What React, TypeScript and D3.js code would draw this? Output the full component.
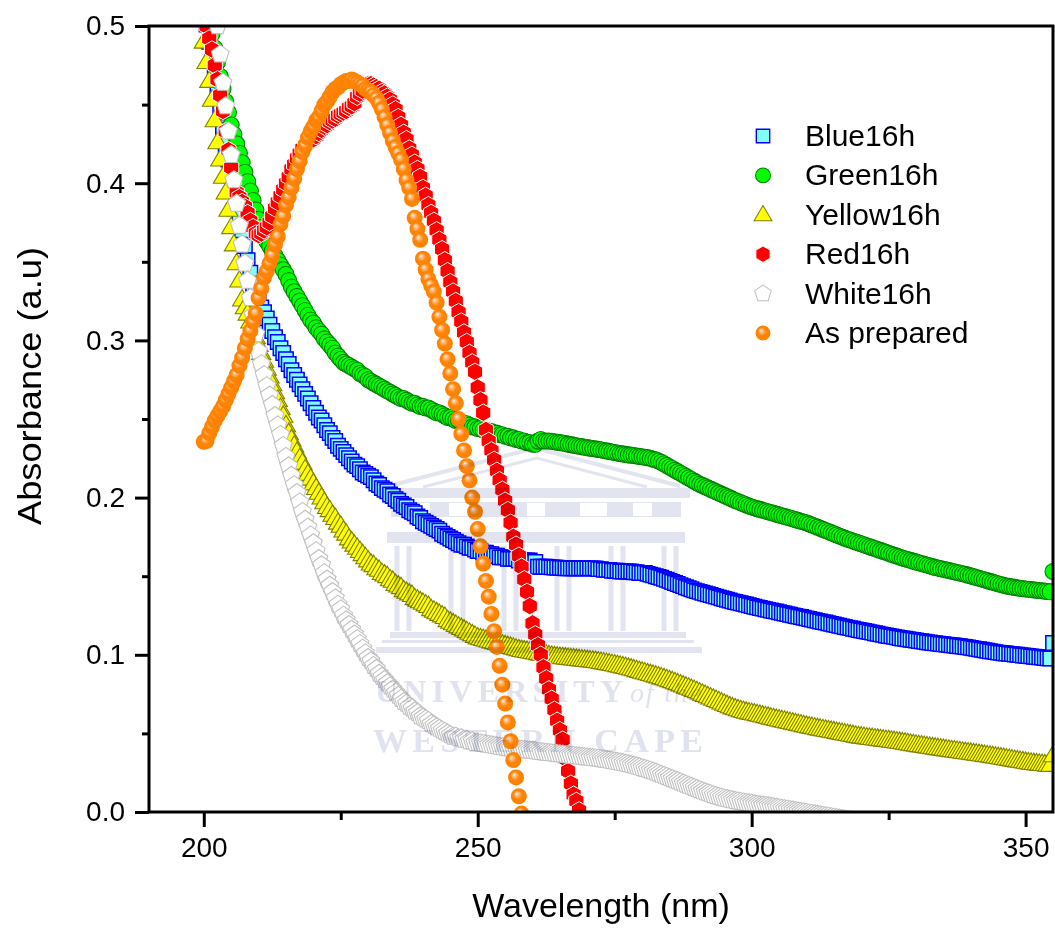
import { useEffect, useRef } from "react";
import * as d3 from "d3";

// Absorbance, one row = 10 nm, one value every 0.5 nm from 200 nm
const blue16h = [
  .512,.501,.490,.479,.468,.457,.445,.434,.424,.415,.408,.399,.390,.380,.370,.360,.351,.343,.336,.330,
  .325,.321,.318,.314,.310,.306,.302,.299,.295,.292,.288,.285,.281,.278,.275,.272,.269,.266,.263,.260,
  .257,.254,.251,.249,.246,.243,.241,.238,.236,.233,.231,.229,.227,.225,.223,.221,.220,.218,.216,.215,
  .214,.213,.211,.209,.208,.206,.205,.204,.202,.201,.199,.198,.196,.195,.194,.192,.191,.190,.188,.187,
  .185,.184,.183,.182,.181,.180,.179,.177,.176,.175,.174,.173,.172,.171,.170,.170,.169,.168,.168,.167,
  .166,.166,.165,.165,.164,.164,.163,.163,.162,.162,.162,.161,.161,.161,.161,.160,.160,.160,.160,.160,
  .159,.159,.156,.156,.156,.156,.1558,.1556,.1555,.1554,.1553,.1552,.1551,.155,.155,.155,.155,.155,.155,.155,
  .155,.155,.155,.155,.1545,.1545,.154,.154,.154,.1535,.1535,.1535,.153,.153,.153,.153,.153,.1525,.1525,.152,
  .152,.152,.1515,.151,.1505,.150,.1495,.149,.1483,.1477,.147,.1463,.1457,.145,.1443,.1437,.143,.1423,.1417,.141,
  .1405,.140,.1395,.139,.1385,.138,.1375,.137,.1365,.136,.1355,.135,.1345,.134,.1336,.1332,.1328,.1324,.132,.1315,
  .1310,.1306,.1302,.1298,.1294,.1290,.1286,.1282,.1278,.1275,.1271,.1267,.1263,.1259,.1255,.1251,.1247,.1243,.1240,.1236,
  .1232,.1228,.1224,.1220,.1216,.1212,.1208,.1205,.1201,.1197,.1193,.1189,.1185,.1181,.1177,.1173,.1170,.1166,.1162,.1158,
  .1155,.1151,.1148,.1144,.1141,.1137,.1134,.1130,.1127,.1123,.1120,.1117,.1114,.1111,.1107,.1104,.1102,.1099,.1096,.1094,
  .1091,.1088,.1086,.1083,.1080,.1078,.1075,.1073,.1071,.1069,.1067,.1065,.1063,.1061,.1059,.1056,.1054,.1052,.1050,.1047,
  .1044,.1041,.1038,.1035,.1032,.1029,.1026,.1023,.1020,.1017,.1014,.1012,.1010,.1008,.1006,.1004,.1002,.1000,.0998,.0996,
  .0994,.0992,.0990,.0988,.0986,.0984,.0982,.0980,.0978,.0976,.1075,
];

const green16h = [
  .525,.515,.505,.495,.486,.477,.468,.460,.452,.445,.437,.431,.425,.419,.413,.407,.401,.395,.389,.383,
  .377,.372,.367,.363,.360,.357,.354,.351,.348,.345,.342,.338,.334,.331,.328,.325,.322,.319,.316,.313,
  .311,.308,.306,.304,.301,.299,.297,.295,.292,.290,.288,.286,.285,.284,.283,.282,.281,.279,.278,.277,
  .275,.274,.273,.272,.271,.270,.269,.268,.267,.266,.265,.264,.263,.263,.262,.261,.260,.260,.259,.258,
  .258,.257,.257,.256,.255,.254,.254,.253,.252,.251,.251,.250,.249,.249,.248,.247,.247,.246,.245,.245,
  .244,.244,.243,.243,.242,.242,.241,.241,.240,.240,.239,.239,.238,.238,.237,.237,.236,.236,.235,.235,
  .234,.234,.236,.237,.236,.236,.236,.2358,.2355,.2352,.235,.2347,.2344,.234,.2337,.2334,.233,.2327,.2324,.232,
  .2318,.2315,.2312,.231,.2307,.2304,.230,.2297,.2294,.229,.2287,.2284,.228,.2278,.2275,.2272,.227,.2268,.2265,.2262,
  .226,.2257,.2254,.225,.2245,.224,.2233,.2225,.2215,.2205,.2195,.2185,.2175,.2165,.2155,.2145,.2135,.2125,.2115,.2105,
  .2095,.2085,.2078,.207,.2062,.2054,.2046,.2038,.203,.2022,.2014,.2006,.1998,.199,.1982,.1975,.1968,.1961,.1954,.1947,
  .1940,.1935,.1930,.1925,.1920,.1915,.1910,.1905,.1900,.1895,.1890,.1885,.1880,.1875,.1870,.1865,.1860,.1855,.1850,.1845,
  .1840,.1833,.1826,.1819,.1812,.1805,.1798,.1791,.1784,.1777,.1770,.1763,.1756,.1749,.1742,.1735,.1730,.1724,.1718,.1712,
  .1706,.1700,.1694,.1688,.1682,.1676,.1670,.1664,.1658,.1652,.1646,.1640,.1634,.1628,.1622,.1616,.1611,.1606,.1601,.1596,
  .1591,.1586,.1581,.1576,.1571,.1566,.1561,.1556,.1552,.1548,.1544,.1540,.1536,.1532,.1528,.1524,.1520,.1516,.1512,.1507,
  .1502,.1497,.1492,.1487,.1482,.1477,.1472,.1467,.1462,.1457,.1452,.1447,.1442,.1438,.1435,.1432,.1429,.1426,.1423,.1421,
  .1419,.1417,.1415,.1413,.1411,.1409,.1407,.1405,.1403,.1401,.153,
];

const yellow16h = [
  .490,.477,.465,.453,.440,.426,.415,.404,.394,.383,.372,.361,.349,.338,.326,.321,.317,.312,.307,.302,
  .297,.292,.287,.282,.277,.272,.267,.262,.257,.252,.246,.241,.237,.233,.229,.225,.222,.218,.215,.212,
  .209,.206,.203,.200,.197,.194,.192,.189,.187,.184,.182,.179,.177,.174,.172,.170,.168,.166,.164,.162,
  .160,.158,.157,.155,.154,.152,.151,.150,.148,.147,.145,.144,.143,.141,.140,.139,.138,.136,.135,.134,
  .133,.132,.131,.129,.128,.127,.126,.125,.124,.122,.121,.120,.119,.118,.117,.116,.115,.114,.113,.112,
  .111,.1105,.110,.1095,.109,.1085,.108,.1075,.107,.1065,.106,.1055,.105,.1045,.104,.1035,.103,.1027,.1024,.102,
  .1017,.1014,.101,.1007,.1004,.100,.0997,.0994,.0991,.0988,.0986,.0984,.0982,.098,.0978,.0976,.0974,.0972,.097,.0968,
  .0966,.0964,.0962,.096,.0957,.0954,.0951,.0948,.0945,.0941,.0938,.0934,.093,.0926,.0922,.0917,.0912,.0907,.0902,.0897,
  .0892,.0887,.0882,.0877,.0872,.0867,.0862,.0856,.085,.0844,.0838,.0832,.0825,.0818,.0811,.0804,.0797,.079,.0783,.0776,
  .0768,.076,.0752,.0744,.0736,.0728,.072,.0712,.0704,.0696,.0688,.068,.0672,.0665,.0659,.0653,.0647,.0642,.0637,.0633,
  .0630,.0626,.0622,.0618,.0613,.0609,.0605,.0600,.0596,.0592,.0588,.0584,.0580,.0576,.0572,.0568,.0564,.0560,.0556,.0552,
  .0548,.0544,.0541,.0537,.0533,.0530,.0526,.0523,.0520,.0516,.0513,.0509,.0506,.0502,.0499,.0496,.0492,.0489,.0485,.0482,
  .0479,.0477,.0474,.0472,.0470,.0467,.0465,.0463,.0460,.0458,.0456,.0453,.0451,.0448,.0446,.0443,.0440,.0437,.0434,.0431,
  .0428,.0425,.0423,.0420,.0417,.0414,.0411,.0409,.0406,.0404,.0401,.0398,.0396,.0393,.0391,.0388,.0386,.0383,.0381,.0378,
  .0376,.0373,.0371,.0368,.0365,.0363,.0360,.0358,.0355,.0352,.0349,.0346,.0343,.0340,.0337,.0334,.0331,.0328,.0325,.0322,
  .0319,.0316,.0313,.0311,.0309,.0307,.0305,.0303,.0301,.0299,.036,
];

const red16h = [
  .508,.500,.492,.485,.475,.466,.456,.446,.433,.421,.410,.402,.394,.391,.388,.385,.381,.376,.372,.368,
  .367,.368,.370,.372,.375,.379,.384,.388,.392,.396,.400,.404,.409,.412,.416,.419,.422,.424,.426,.428,
  .428,.430,.432,.434,.436,.437,.439,.440,.441,.443,.444,.445,.446,.448,.449,.451,.455,.457,.459,.461,
  .463,.463,.462,.461,.460,.458,.457,.455,.453,.450,.447,.442,.437,.432,.428,.422,.418,.413,.409,.404,
  .397,.392,.386,.381,.376,.370,.364,.358,.351,.344,.337,.331,.325,.318,.312,.305,.299,.292,.286,.280,
  .270,.262,.254,.243,.236,.230,.224,.217,.211,.205,.198,.192,.184,.175,.170,.163,.156,.148,.140,.131,
  .120,.113,.106,.100,.092,.085,.078,.072,.065,.058,.052,.046,.034,.026,.018,.011,.007,.001,-.005,-.012,
];

const white16h = [
  .590,.572,.553,.535,.517,.500,.482,.464,.449,.433,.418,.402,.387,.373,.361,.349,.338,.327,.316,.304,
  .293,.285,.278,.271,.265,.259,.252,.246,.240,.233,.226,.220,.214,.208,.203,.197,.191,.186,.181,.176,
  .171,.166,.161,.157,.152,.148,.144,.140,.136,.132,.129,.125,.122,.119,.116,.113,.110,.107,.104,.101,
  .098,.096,.093,.091,.088,.086,.084,.082,.080,.078,.076,.074,.072,.070,.069,.067,.066,.064,.063,.061,
  .060,.059,.058,.056,.055,.054,.053,.052,.051,.050,.049,.048,.048,.047,.047,.046,.046,.045,.045,.044,
  .0440,.0437,.0434,.0431,.0428,.0425,.0422,.0419,.0416,.0413,.0410,.0407,.0405,.0403,.0401,.0399,.0397,.0395,.0393,.0391,
  .0390,.0387,.0384,.0382,.0380,.0378,.0376,.0374,.0372,.0370,.0368,.0366,.0364,.0362,.0360,.0358,.0356,.0354,.0352,.0350,
  .0348,.0346,.0344,.0342,.0340,.0337,.0334,.0331,.0328,.0325,.0322,.0319,.0316,.0312,.0308,.0304,.0300,.0295,.0290,.0285,
  .0280,.0275,.0270,.0264,.0258,.0252,.0245,.0238,.0231,.0224,.0217,.0210,.0203,.0196,.0189,.0182,.0175,.0168,.0161,.0154,
  .0147,.0140,.0133,.0126,.0120,.0114,.0108,.0102,.0097,.0092,.0087,.0083,.0079,.0075,.0071,.0068,.0065,.0062,.0059,.0056,
  .0053,.0050,.0047,.0044,.0042,.0040,.0037,.0034,.0031,.0028,.0025,.0022,.0019,.0016,.0013,.0010,.0007,.0004,.0001,-.0002,
  -.0005,-.0008,-.0011,-.0014,-.0017,-.0020,-.0023,-.0026,-.0029,-.0032,-.0035,-.0038,-.0041,-.0044,-.0047,-.0050,-.0053,-.0056,-.0059,-.0062,
];

const asPrepared = [
  .2355,.236,.241,.245,.249,.252,.255,.258,.262,.266,.270,.274,.278,.284,.289,.295,.301,.306,.312,.317,
  .327,.333,.340,.344,.349,.354,.361,.366,.374,.379,.386,.391,.397,.403,.409,.414,.420,.424,.429,.433,
  .436,.440,.442,.446,.450,.452,.455,.458,.460,.461,.463,.464,.465,.465,.466,.465,.464,.463,.462,.460,
  .459,.458,.456,.454,.451,.447,.442,.437,.432,.427,.423,.419,.415,.409,.402,.397,.390,.378,.371,.364,
  .352,.345,.339,.335,.331,.324,.315,.3066,.298,.288,.279,.269,.260,.250,.2405,.230,.220,.211,.200,.191,
  .180,.169,.158,.147,.137,.126,.115,.105,.093,.081,.069,.057,.045,.033,.022,.010,-.001,
];

const startWavelength = 200;
const stepWavelength = 0.5;
const xMajorTicks = [200, 250, 300, 350];
const xMinorTicks = [225, 275, 325];
const yMajorTicks = [0, 0.1, 0.2, 0.3, 0.4, 0.5];
const yMinorTicks = [0.05, 0.15, 0.25, 0.35, 0.45];

const width = 1055;
const height = 928;
const left = 149;
const right = 1053;
const top = 26;
const bottom = 812;

const font = '"Liberation Sans", Arial, sans-serif';

// n-sided marker with a point on top
const polygon = (n: number, r: number) => {
  const pts = d3.range(n).map((i) => [(i * 2 * Math.PI) / n, r] as [number, number]);
  return d3.lineRadial().curve(d3.curveLinearClosed)(pts) as string;
};
const circle = d3.symbol().type(d3.symbolCircle).size(Math.PI * 8 * 8)() as string;
const square = "M-7.2,-7.2H7.2V7.2H-7.2Z";
const triangle = "M0,-10L9.6,6.4H-9.6Z";

const seriesList = [
  { name: "Blue16h", values: blue16h, d: square, fill: "#80ffff", stroke: "#0000ff", sw: 1.5 },
  { name: "Green16h", values: green16h, d: circle, fill: "#00ff00", stroke: "#008000", sw: 1.1 },
  { name: "Yellow16h", values: yellow16h, d: triangle, fill: "#ffff00", stroke: "#808000", sw: 1.1 },
  { name: "Red16h", values: red16h, d: polygon(6, 8.8), fill: "#ff0000", stroke: "#ffffff", sw: 1 },
  { name: "White16h", values: white16h, d: polygon(5, 9.4), fill: "#ffffff", stroke: "#c0c0c0", sw: 1.1 },
  { name: "As prepared", values: asPrepared, d: circle, fill: "url(#sphere)", stroke: "none", sw: 0 },
];

const drawChart = (node: SVGSVGElement) => {
  const svg = d3.select(node);
  svg.selectAll("*").remove();

  const x = d3.scaleLinear().domain([190, 355]).range([left, right]);
  const y = d3.scaleLinear().domain([0, 0.5]).range([bottom, top]);

  const defs = svg.append("defs");
  defs.append("clipPath").attr("id", "plot-clip").append("rect")
    .attr("x", left).attr("y", top).attr("width", right - left).attr("height", bottom - top);
  const grad = defs.append("radialGradient").attr("id", "sphere")
    .attr("cx", 0.5).attr("cy", 0.5).attr("r", 0.55).attr("fx", 0.36).attr("fy", 0.32);
  grad.append("stop").attr("offset", "0").attr("stop-color", "#fff4ea");
  grad.append("stop").attr("offset", "0.2").attr("stop-color", "#ffbe82");
  grad.append("stop").attr("offset", "0.5").attr("stop-color", "#ff8506");
  grad.append("stop").attr("offset", "1").attr("stop-color", "#ff7f00");

  // markers, clipped to the frame
  const plot = svg.append("g").attr("clip-path", "url(#plot-clip)");
  seriesList.forEach((s) => {
    plot.append("g")
      .selectAll("path")
      .data(s.values)
      .join("path")
      .attr("d", s.d)
      .attr("transform", (v, i) => `translate(${x(startWavelength + i * stepWavelength)},${y(v)})`)
      .attr("fill", s.fill)
      .attr("stroke", s.stroke)
      .attr("stroke-width", s.sw);
  });

  // frame
  svg.append("rect")
    .attr("x", left).attr("y", top).attr("width", right - left).attr("height", bottom - top)
    .attr("fill", "none").attr("stroke", "#000").attr("stroke-width", 3);

  // axes
  const styleAxis = (g: any) => {
    g.select(".domain").remove();
    g.selectAll("line").attr("stroke", "#000").attr("stroke-width", 3);
    g.selectAll("text").attr("font-family", font).attr("font-size", 28).attr("fill", "#000");
  };
  svg.append("g").attr("transform", `translate(0,${bottom})`)
    .call(d3.axisBottom(x).tickValues(xMajorTicks).tickSize(15).tickPadding(10).tickFormat(d3.format("d")) as any)
    .call(styleAxis);
  svg.append("g").attr("transform", `translate(0,${bottom})`)
    .call(d3.axisBottom(x).tickValues(xMinorTicks).tickSize(8).tickFormat(() => "") as any)
    .call(styleAxis);
  svg.append("g").attr("transform", `translate(${left},0)`)
    .call(d3.axisLeft(y).tickValues(yMajorTicks).tickSize(14).tickPadding(10).tickFormat(d3.format(".1f")) as any)
    .call(styleAxis);
  svg.append("g").attr("transform", `translate(${left},0)`)
    .call(d3.axisLeft(y).tickValues(yMinorTicks).tickSize(7).tickFormat(() => "") as any)
    .call(styleAxis);

  // axis titles
  svg.append("text")
    .attr("x", 601).attr("y", 917).attr("text-anchor", "middle")
    .attr("font-family", font).attr("font-size", 34)
    .text("Wavelength (nm)");
  svg.append("text")
    .attr("transform", "translate(41,386) rotate(-90)").attr("text-anchor", "middle")
    .attr("font-family", font).attr("font-size", 34)
    .attr("textLength", 278).attr("lengthAdjust", "spacingAndGlyphs")
    .text("Absorbance (a.u)");

  // legend
  const legendY = d3.scalePoint().domain(seriesList.map((s) => s.name)).range([136, 333]);
  const legend = svg.append("g");
  seriesList.forEach((s) => {
    legend.append("path")
      .attr("d", s.d)
      .attr("transform", `translate(763,${legendY(s.name)}) scale(0.93)`)
      .attr("fill", s.fill).attr("stroke", s.stroke).attr("stroke-width", s.sw);
    legend.append("text")
      .attr("x", 805).attr("y", (legendY(s.name) as number) + 10)
      .attr("font-family", font).attr("font-size", 30)
      .text(s.name);
  });

  // faint university crest over the curves
  const wm = svg.append("g").style("mix-blend-mode", "multiply");
  const wmColor = "#e2e4f0";
  const wmRects = [
    [390, 488, 300, 10], [391, 502, 290, 15], [387, 532, 298, 11],
    [390, 632, 296, 6], [382, 640, 312, 3], [376, 647, 326, 6],
  ];
  wmRects.forEach(([rx, ry, rw, rh]) => {
    wm.append("rect").attr("x", rx).attr("y", ry).attr("width", rw).attr("height", rh).attr("fill", wmColor);
  });
  [[449, 20], [527, 18], [580, 27], [633, 19], [412, 18]].forEach(([wx, ww]) => {
    wm.append("rect").attr("x", wx).attr("y", 503).attr("width", ww).attr("height", 13).attr("fill", "#fff");
  });
  [[393, 485, 535, 448, 680, 486, 4], [423, 487, 537, 458, 647, 487, 3]].forEach(([a, b, c, d, e, f, w]) => {
    wm.append("path").attr("d", `M${a},${b}L${c},${d}L${e},${f}`)
      .attr("fill", "none").attr("stroke", wmColor).attr("stroke-width", w);
  });
  [403, 457, 510, 563, 617, 670].forEach((cx) => {
    [-6, 6].forEach((dx) => {
      wm.append("rect").attr("x", cx + dx - 2.5).attr("y", 546).attr("width", 5).attr("height", 85).attr("fill", wmColor);
    });
  });
  const serif = '"Liberation Serif", serif';
  const wmText = "#e0e2ee";
  wm.append("text").attr("x", 375).attr("y", 702)
    .attr("font-family", serif).attr("font-weight", "bold").attr("font-size", 32).attr("fill", wmText)
    .attr("textLength", 248).attr("lengthAdjust", "spacing").text("UNIVERSITY");
  wm.append("text").attr("x", 630).attr("y", 702)
    .attr("font-family", serif).attr("font-style", "italic").attr("font-size", 28).attr("fill", wmText)
    .attr("textLength", 72).attr("lengthAdjust", "spacing").text("of the");
  wm.append("text").attr("x", 373).attr("y", 752)
    .attr("font-family", serif).attr("font-weight", "bold").attr("font-size", 34).attr("fill", wmText)
    .attr("textLength", 330).attr("lengthAdjust", "spacing").text("WESTERN CAPE");
};

export default function App() {
  const ref = useRef<SVGSVGElement>(null);
  useEffect(() => {
    if (ref.current) drawChart(ref.current);
  }, []);
  return (
    <svg
      ref={ref}
      width={width}
      height={height}
      style={{ position: "absolute", left: 0, top: 0, background: "#fff", display: "block" }}
    />
  );
}
